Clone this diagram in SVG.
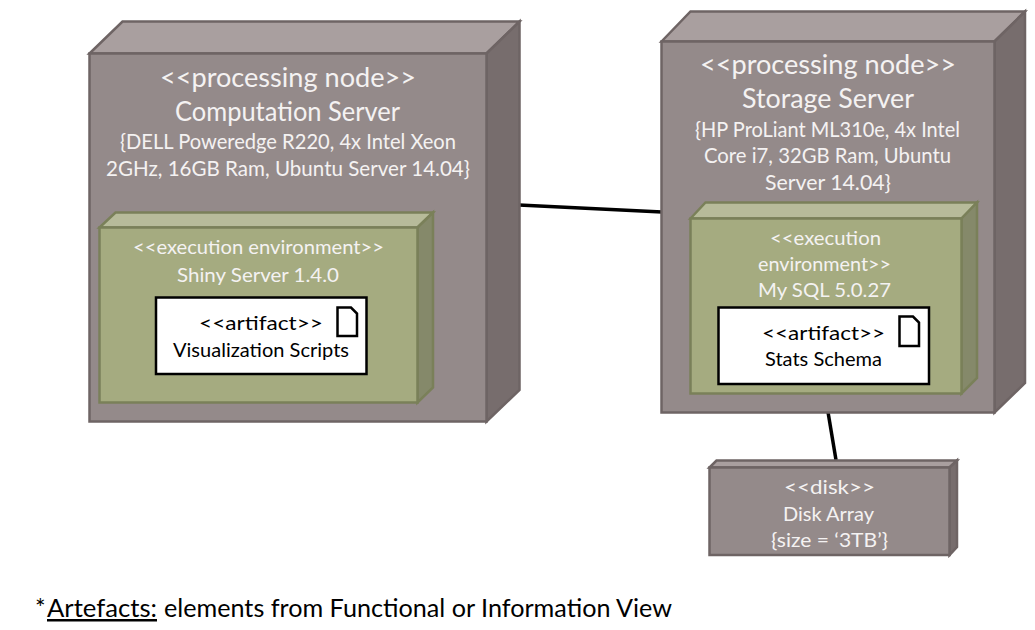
<svg xmlns="http://www.w3.org/2000/svg" width="1035" height="630" viewBox="0 0 1035 630">
<style>
text{font-family:"Lato","Noto Sans",sans-serif;fill:#f4f2f2}
.l{font-size:26px}.m{font-size:20.5px}.s{font-size:19px}
.d{fill:#000}
.f{font-size:25px;fill:#000}
.gf{fill:#948a8a}.gt{fill:#a99f9f}.gs{fill:#776d6d}
.g{stroke:#6e6464;stroke-width:2.5;stroke-linejoin:miter}
.ef{fill:#a5ab80}.et{fill:#b7bb9a}.es{fill:#85896a}
.e{stroke:#7a8059;stroke-width:2.5}
.a{fill:#fff;stroke:#000;stroke-width:2.5}
.c{stroke:#000;stroke-width:3.5;fill:none}
</style>
<g id="connectors">
<line class="c" x1="519" y1="205" x2="662" y2="212"/>
<line class="c" x1="828" y1="412" x2="836" y2="460"/>
</g>
<g id="computation-server">
<polygon class="g gt" points="89.5,53.5 122.5,21.5 519.5,21.5 486.5,53.5"/>
<polygon class="g gs" points="486.5,53.5 519.5,21.5 519.5,390 486.5,421.5"/>
<rect class="g gf" x="89.5" y="53.5" width="397" height="368"/>
<text class="l" x="160" y="87" textLength="256" lengthAdjust="spacingAndGlyphs">&lt;&lt;processing node&gt;&gt;</text>
<text class="l" x="175" y="121" textLength="225" lengthAdjust="spacingAndGlyphs">Computation Server</text>
<text class="m" x="120" y="149" textLength="336" lengthAdjust="spacingAndGlyphs">{DELL Poweredge R220, 4x Intel Xeon</text>
<text class="m" x="106" y="176" textLength="364" lengthAdjust="spacingAndGlyphs">2GHz, 16GB Ram, Ubuntu Server 14.04}</text>
</g>
<g id="shiny-server">
<polygon class="e et" points="99.5,227.5 115.5,212.5 433,212.5 417.5,227.5"/>
<polygon class="e es" points="417.5,227.5 433,212.5 433,387.5 417.5,402.5"/>
<rect class="e ef" x="99.5" y="227.5" width="318" height="175"/>
<text class="s" x="133" y="254" textLength="251" lengthAdjust="spacingAndGlyphs">&lt;&lt;execution environment&gt;&gt;</text>
<text class="s" x="177" y="282" textLength="162" lengthAdjust="spacingAndGlyphs">Shiny Server 1.4.0</text>
</g>
<g id="visualization-scripts">
<rect class="a" x="156" y="297.5" width="210.5" height="76.5"/>
<path class="a" d="M337.5,307.5H351L357,313.5V336H337.5Z"/>
<text class="s d" x="199" y="330" textLength="124" lengthAdjust="spacingAndGlyphs">&lt;&lt;artifact&gt;&gt;</text>
<text class="s d" x="173" y="357" textLength="176" lengthAdjust="spacingAndGlyphs">Visualization Scripts</text>
</g>
<g id="storage-server">
<polygon class="g gt" points="661.5,41.5 690.5,11.5 1025,11.5 994.5,41.5"/>
<polygon class="g gs" points="994.5,41.5 1025,11.5 1025,383 994.5,412.5"/>
<rect class="g gf" x="661.5" y="41.5" width="333" height="371"/>
<text class="l" x="700" y="74" textLength="256" lengthAdjust="spacingAndGlyphs">&lt;&lt;processing node&gt;&gt;</text>
<text class="l" x="742" y="108" textLength="172" lengthAdjust="spacingAndGlyphs">Storage Server</text>
<text class="m" x="695" y="137" textLength="265" lengthAdjust="spacingAndGlyphs">{HP ProLiant ML310e, 4x Intel</text>
<text class="m" x="704" y="163" textLength="247" lengthAdjust="spacingAndGlyphs">Core i7, 32GB Ram, Ubuntu</text>
<text class="m" x="765" y="190" textLength="126" lengthAdjust="spacingAndGlyphs">Server 14.04}</text>
</g>
<g id="my-sql">
<polygon class="e et" points="690.5,218.5 705.5,202.5 977,202.5 961.5,218.5"/>
<polygon class="e es" points="961.5,218.5 977,202.5 977,378 961.5,393.5"/>
<rect class="e ef" x="690.5" y="218.5" width="271" height="175"/>
<text class="s" x="770" y="245" textLength="111" lengthAdjust="spacingAndGlyphs">&lt;&lt;execution</text>
<text class="s" x="758" y="271" textLength="133" lengthAdjust="spacingAndGlyphs">environment&gt;&gt;</text>
<text class="s" x="758" y="297" textLength="133" lengthAdjust="spacingAndGlyphs">My SQL 5.0.27</text>
</g>
<g id="stats-schema">
<rect class="a" x="718.5" y="307.5" width="210.5" height="76.5"/>
<path class="a" d="M899.5,316.5H913L919,322.5V346H899.5Z"/>
<text class="s d" x="762" y="340" textLength="123" lengthAdjust="spacingAndGlyphs">&lt;&lt;artifact&gt;&gt;</text>
<text class="s d" x="765" y="366" textLength="117" lengthAdjust="spacingAndGlyphs">Stats Schema</text>
</g>
<g id="disk-array">
<polygon class="g gt" points="709.5,467.5 716.5,460.5 957,460.5 949.5,467.5"/>
<polygon class="g gs" points="949.5,467.5 957,460.5 957,547 949.5,555"/>
<rect class="g gf" x="709.5" y="467.5" width="240" height="87.5"/>
<text class="s" x="784" y="494" textLength="91" lengthAdjust="spacingAndGlyphs">&lt;&lt;disk&gt;&gt;</text>
<text class="s" x="783" y="521" textLength="91" lengthAdjust="spacingAndGlyphs">Disk Array</text>
<text class="s" x="771" y="547" textLength="117" lengthAdjust="spacingAndGlyphs">{size = ‘3TB’}</text>
</g>
<text class="f" x="35" y="617">*</text>
<text class="f" x="47" y="617" text-decoration="underline" textLength="110" lengthAdjust="spacingAndGlyphs">Artefacts:</text>
<text class="f" x="164" y="617" textLength="508" lengthAdjust="spacingAndGlyphs">elements from Functional or Information View</text>
</svg>
